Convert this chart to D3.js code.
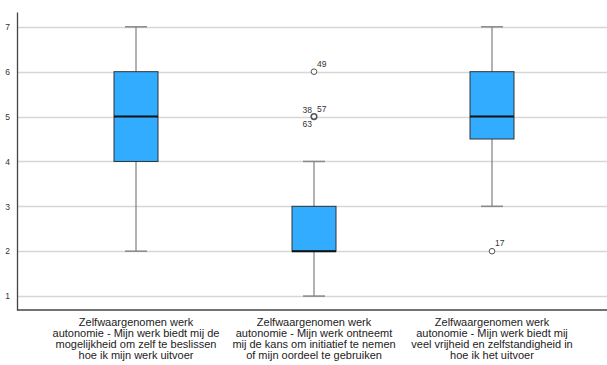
<!DOCTYPE html>
<html>
<head>
<meta charset="utf-8">
<script src="https://cdn.jsdelivr.net/npm/d3@7"></script>
<style>
  html, body { margin: 0; padding: 0; background: #fff; }
  svg { display: block; font-family: Arial, "Liberation Sans", sans-serif; }
</style>
</head>
<body>
<svg id="chart" width="607" height="365"></svg>
<script>
// Item labels (one per box), split into display lines
const categories = [
  ["Zelfwaargenomen werk", "autonomie - Mijn werk biedt mij de", "mogelijkheid om zelf te beslissen", "hoe ik mijn werk uitvoer"],
  ["Zelfwaargenomen werk", "autonomie - Mijn werk ontneemt", "mij de kans om initiatief te nemen", "of mijn oordeel te gebruiken"],
  ["Zelfwaargenomen werk", "autonomie - Mijn werk biedt mij", "veel vrijheid en zelfstandigheid in", "hoe ik het uitvoer"]
];
// Five-number summaries per item
const whiskerLow  = [2, 1, 3];
const q1          = [4, 2, 4.5];
const median      = [5, 2, 5];
const q3          = [6, 3, 6];
const whiskerHigh = [7, 4, 7];
// Outliers: [item index, value, case labels]
const outliers = [
  [1, 6, ["49"]],
  [1, 5, ["38", "57", "63"]],
  [2, 2, ["17"]]
];
const yTicks = [1, 2, 3, 4, 5, 6, 7];

const svg = d3.select("#chart");
const plotLeft = 17, plotRight = 607, plotTop = 12, plotBottom = 310;

const x = d3.scaleBand()
  .domain(d3.range(categories.length))
  .range([47, 581])
  .paddingInner(0).paddingOuter(0);
const y = d3.scaleLinear().domain([0.69, 7.33]).range([plotBottom, plotTop]);

const boxW = 44, capW = 22;
const cx = i => x(i) + x.bandwidth() / 2;

// Horizontal grid lines
svg.append("g").selectAll("line").data(yTicks).join("line")
  .attr("x1", plotLeft).attr("x2", plotRight)
  .attr("y1", d => Math.round(y(d)) + 0.5).attr("y2", d => Math.round(y(d)) + 0.5)
  .attr("stroke", "#d6d6d6").attr("stroke-width", 1.4);

// Y axis
const yAxis = svg.append("g").attr("transform", `translate(${plotLeft},0)`)
  .call(d3.axisLeft(y).tickValues(yTicks).tickSize(0).tickPadding(7).tickFormat(d3.format("d")));
yAxis.select(".domain").attr("stroke", "#444").attr("stroke-width", 1.3);
yAxis.selectAll("text").attr("fill", "#333").attr("font-size", 8.5);

// X axis baseline
svg.append("line").attr("x1", plotLeft).attr("x2", plotRight)
  .attr("y1", plotBottom).attr("y2", plotBottom)
  .attr("stroke", "#444").attr("stroke-width", 1.3);

const boxes = svg.append("g").selectAll("g").data(d3.range(categories.length)).join("g");

// Whiskers
boxes.append("line")
  .attr("x1", cx).attr("x2", cx)
  .attr("y1", i => y(whiskerLow[i])).attr("y2", i => y(whiskerHigh[i]))
  .attr("stroke", "#666").attr("stroke-width", 1);
// Caps
boxes.append("line")
  .attr("x1", i => cx(i) - capW / 2).attr("x2", i => cx(i) + capW / 2)
  .attr("y1", i => y(whiskerLow[i])).attr("y2", i => y(whiskerLow[i]))
  .attr("stroke", "#888").attr("stroke-width", 1.5);
boxes.append("line")
  .attr("x1", i => cx(i) - capW / 2).attr("x2", i => cx(i) + capW / 2)
  .attr("y1", i => y(whiskerHigh[i])).attr("y2", i => y(whiskerHigh[i]))
  .attr("stroke", "#888").attr("stroke-width", 1.5);
// Boxes
boxes.append("rect")
  .attr("x", i => cx(i) - boxW / 2).attr("width", boxW)
  .attr("y", i => y(q3[i])).attr("height", i => y(q1[i]) - y(q3[i]))
  .attr("fill", "#31acfe").attr("stroke", "#333").attr("stroke-width", 1);
// Medians
boxes.append("line")
  .attr("x1", i => cx(i) - boxW / 2).attr("x2", i => cx(i) + boxW / 2)
  .attr("y1", i => y(median[i])).attr("y2", i => y(median[i]))
  .attr("stroke", "#111").attr("stroke-width", 2);

// Outliers and case labels
const out = svg.append("g");
outliers.forEach(([i, v, labels]) => {
  const px = cx(i), py = y(v);
  out.append("circle").attr("cx", px).attr("cy", py).attr("r", 2.8)
    .attr("fill", "#fff").attr("stroke", "#555").attr("stroke-width", labels.length > 1 ? 1.6 : 1);
  const lbl = (t, dx, dy, anchor) => out.append("text")
    .attr("x", px + dx).attr("y", py + dy).attr("text-anchor", anchor)
    .attr("font-size", 8.5).attr("fill", "#333").text(t);
  if (labels.length === 1) {
    lbl(labels[0], 3, -5, "start");
  } else {
    lbl(labels[0], -2, -4, "end");
    lbl(labels[1], 3, -5, "start");
    lbl(labels[2], -2, 10, "end");
  }
});

// Category labels
const cat = svg.append("g").attr("font-size", 11).attr("fill", "#222").attr("text-anchor", "middle");
categories.forEach((lines, i) => {
  const t = cat.append("text").attr("x", cx(i)).attr("y", 326);
  lines.forEach((ln, k) => t.append("tspan").attr("x", cx(i)).attr("dy", k === 0 ? 0 : 11).text(ln));
});
</script>
</body>
</html>
